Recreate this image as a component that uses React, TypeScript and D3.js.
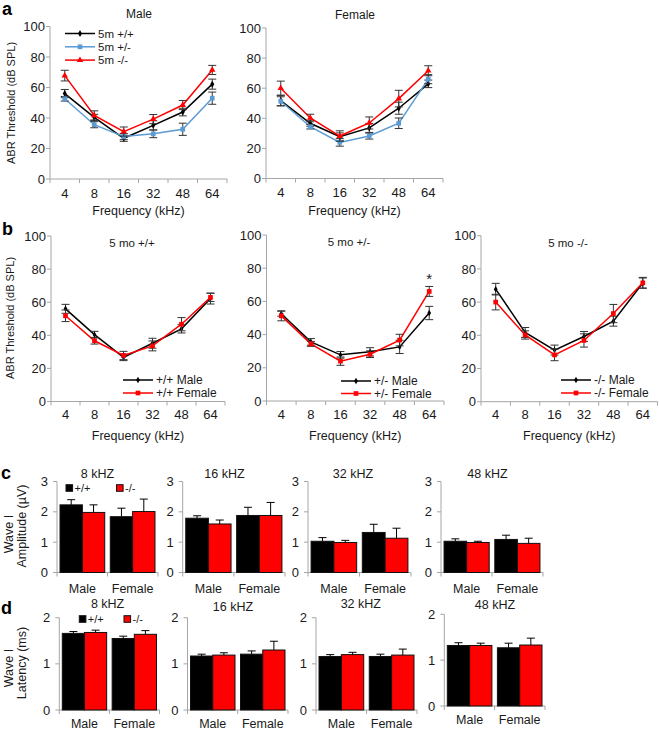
import React from "react";
import * as d3 from "d3";

const FONT = "'Liberation Sans', Arial, Helvetica, sans-serif";

// ---------- Panel a / b data (ABR thresholds, dB SPL) ----------
const freqs = ["4", "8", "16", "32", "48", "64"];
const thresholdTicks = [0, 20, 40, 60, 80, 100];

const maleWT = [56, 40.4, 26.7, 35.2, 43.9, 62.2];
const maleWTErr = [2.7, 2, 2, 3, 2.5, 3.3];
const maleHet = [52.6, 35.6, 27.8, 29.6, 32.6, 53];
const maleHetErr = [1.5, 2, 2, 2.5, 4, 4];
const maleKO = [67.8, 41.7, 31.1, 39.3, 48.5, 71.5];
const maleKOErr = [3.5, 3, 3, 3, 3, 3];

const femaleWT = [51.8, 36.7, 27.8, 33.6, 46.7, 62.9];
const femaleWTErr = [3.5, 2, 2.5, 3, 4, 2.5];
const femaleHet = [51.3, 34.4, 24, 28.2, 36.7, 66];
const femaleHetErr = [3, 1.5, 2.5, 2, 3.5, 3];
const femaleKO = [60, 40.2, 28.2, 36.9, 53.1, 71.6];
const femaleKOErr = [4.7, 2.5, 3.5, 4, 5.5, 3.3];

// ---------- Panel c / d data ----------
const sexes = ["Male", "Female"];
const genotypes = ["+/+", "-/-"];
const barFreqs = ["8 kHZ", "16 kHZ", "32 kHZ", "48 kHZ"];
const ampTicks = [0, 1, 2, 3];
const latTicks = [0, 1, 2];

const ampMaleWT = [2.23, 1.79, 1.03, 1.03];
const ampMaleWTErr = [0.17, 0.08, 0.12, 0.08];
const ampMaleKO = [1.98, 1.6, 0.99, 0.99];
const ampMaleKOErr = [0.25, 0.13, 0.07, 0.04];
const ampFemaleWT = [1.84, 1.88, 1.32, 1.09];
const ampFemaleWTErr = [0.28, 0.27, 0.27, 0.14];
const ampFemaleKO = [2.01, 1.88, 1.13, 0.96];
const ampFemaleKOErr = [0.41, 0.43, 0.33, 0.17];

const latMaleWT = [1.66, 1.17, 1.16, 1.32];
const latMaleWTErr = [0.04, 0.04, 0.04, 0.06];
const latMaleKO = [1.68, 1.19, 1.2, 1.32];
const latMaleKOErr = [0.05, 0.05, 0.05, 0.05];
const latFemaleWT = [1.55, 1.21, 1.16, 1.27];
const latFemaleWTErr = [0.05, 0.07, 0.05, 0.1];
const latFemaleKO = [1.64, 1.3, 1.19, 1.33];
const latFemaleKOErr = [0.08, 0.19, 0.13, 0.15];

const BLACK = "#000000";
const BLUE = "#5b9bd5";
const RED = "#ff0000";
const AXIS = "#a6a6a6";
const TXT = "#1a1a1a";
const ERR = "#333333";

type MarkerType = "diamond" | "square" | "triangle";
type Series = {
  label: string;
  values: number[];
  errs: number[];
  color: string;
  marker: MarkerType;
  size: number;
};

function symbolOf(t: MarkerType) {
  return t === "diamond" ? d3.symbolDiamond : t === "square" ? d3.symbolSquare : d3.symbolTriangle;
}

function Marker({ type, size, color, x, y }: { type: MarkerType; size: number; color: string; x: number; y: number }) {
  const p = d3.symbol(symbolOf(type), size)() || "";
  return <path d={p} transform={`translate(${x},${y})`} fill={color} />;
}

type Legend = { x: number; y: number; dy: number; size: number; len: number };

type LineProps = {
  x0: number;
  x1: number;
  yTop: number;
  yBot: number;
  series: Series[];
  title: string;
  titleX: number;
  titleY: number;
  titleSize: number;
  legend?: Legend;
  xLabelY: number;
  tickLabelDy: number;
  star?: { index: number; y: number };
};

function LinePanel(p: LineProps) {
  const x = d3.scaleBand<string>().domain(freqs).range([p.x0, p.x1]).padding(0);
  const y = d3.scaleLinear().domain([0, 100]).range([p.yBot, p.yTop]);
  const cx = (f: string) => (x(f) as number) + x.bandwidth() / 2;
  const line = d3
    .line<number>()
    .x((_, i) => cx(freqs[i]))
    .y((v) => y(v));
  const boundaries = freqs.map((f) => x(f) as number).concat([p.x1]);
  const lg = p.legend;
  return (
    <g>
      <line x1={p.x0} x2={p.x0} y1={y(100)} y2={p.yBot} stroke={AXIS} strokeWidth={1} />
      <line x1={p.x0} x2={p.x1} y1={p.yBot} y2={p.yBot} stroke={AXIS} strokeWidth={1} />
      {thresholdTicks.map((t) => (
        <g key={"yt" + t}>
          <line x1={p.x0 - 4} x2={p.x0} y1={y(t)} y2={y(t)} stroke={AXIS} />
          <text x={p.x0 - 5} y={y(t) + 4.6} textAnchor="end" fontSize={13} fill={TXT}>
            {t}
          </text>
        </g>
      ))}
      {boundaries.map((b, i) => (
        <line key={"xb" + i} x1={b} x2={b} y1={p.yBot} y2={p.yBot + 4} stroke={AXIS} />
      ))}
      {freqs.map((f) => (
        <text key={"xl" + f} x={cx(f)} y={p.yBot + p.tickLabelDy} textAnchor="middle" fontSize={13} fill={TXT}>
          {f}
        </text>
      ))}
      <text x={(p.x0 + p.x1) / 2} y={p.xLabelY} textAnchor="middle" fontSize={12.5} fill={TXT}>
        Frequency (kHz)
      </text>
      <text x={p.titleX} y={p.titleY} textAnchor="middle" fontSize={p.titleSize} fill={TXT}>
        {p.title}
      </text>
      {p.series.map((s, si) => (
        <g key={"s" + si}>
          <path d={line(s.values) || ""} fill="none" stroke={s.color} strokeWidth={1.5} />
          {s.values.map((v, i) => {
            const xc = cx(freqs[i]);
            const lo = y(v - s.errs[i]);
            const hi = y(v + s.errs[i]);
            return (
              <g key={"e" + i} stroke={ERR} strokeWidth={1}>
                <line x1={xc} x2={xc} y1={lo} y2={hi} />
                <line x1={xc - 4} x2={xc + 4} y1={lo} y2={lo} />
                <line x1={xc - 4} x2={xc + 4} y1={hi} y2={hi} />
              </g>
            );
          })}
          {s.values.map((v, i) => (
            <Marker key={"m" + i} type={s.marker} size={s.size} color={s.color} x={cx(freqs[i])} y={y(v)} />
          ))}
        </g>
      ))}
      {lg &&
        p.series.map((s, si) => {
          const ly = lg.y + si * lg.dy;
          return (
            <g key={"lg" + si}>
              <line x1={lg.x} x2={lg.x + lg.len} y1={ly} y2={ly} stroke={s.color} strokeWidth={1.5} />
              <Marker type={s.marker} size={s.size} color={s.color} x={lg.x + lg.len / 2} y={ly} />
              <text x={lg.x + lg.len + 3} y={ly + 4.3} fontSize={lg.size} fill={TXT}>
                {s.label}
              </text>
            </g>
          );
        })}
      {p.star && (
        <text x={cx(freqs[p.star.index])} y={p.star.y} textAnchor="middle" fontSize={15} fill={TXT}>
          *
        </text>
      )}
    </g>
  );
}

type BarProps = {
  x0: number;
  x1: number;
  yTop: number;
  yBot: number;
  maxV: number;
  ticks: number[];
  wt: number[];
  wtErr: number[];
  ko: number[];
  koErr: number[];
  title: string;
  titleX: number;
  titleY: number;
  catY: number;
  legend?: { y: number; x1: number; x2: number };
};

function BarPanel(p: BarProps) {
  const x = d3.scaleBand<string>().domain(sexes).range([p.x0, p.x1]).paddingInner(0.11).paddingOuter(0.06);
  const xg = d3.scaleBand<string>().domain(genotypes).range([0, x.bandwidth()]).padding(0);
  const y = d3.scaleLinear().domain([0, p.maxV]).range([p.yBot, p.yTop]);
  const bounds = [p.x0, p.x0 + (p.x1 - p.x0) / 2, p.x1];
  const rows = sexes.map((sx, si) =>
    genotypes.map((g, gi) => {
      const v = gi === 0 ? p.wt[si] : p.ko[si];
      const e = gi === 0 ? p.wtErr[si] : p.koErr[si];
      return { sx, g, v, e, color: gi === 0 ? BLACK : RED };
    })
  );
  return (
    <g>
      <line x1={p.x0} x2={p.x0} y1={p.yTop} y2={p.yBot} stroke={AXIS} />
      <line x1={p.x0} x2={p.x1} y1={p.yBot} y2={p.yBot} stroke={AXIS} />
      {p.ticks.map((t) => (
        <g key={"t" + t}>
          <line x1={p.x0 - 4} x2={p.x0} y1={y(t)} y2={y(t)} stroke={AXIS} />
          <text x={p.x0 - 9} y={y(t) + 4.6} textAnchor="end" fontSize={13} fill={TXT}>
            {t}
          </text>
        </g>
      ))}
      {bounds.map((b, i) => (
        <line key={"b" + i} x1={b} x2={b} y1={p.yBot} y2={p.yBot + 4} stroke={AXIS} />
      ))}
      {rows.flat().map((r, i) => {
        const bx = (x(r.sx) as number) + (xg(r.g) as number);
        const bw = xg.bandwidth();
        const top = y(r.v);
        const et = y(r.v + r.e);
        const mx = bx + bw / 2;
        return (
          <g key={"bar" + i}>
            <rect x={bx} y={top} width={bw} height={p.yBot - top} fill={r.color} stroke="#111" strokeWidth={1} />
            <line x1={mx} x2={mx} y1={top} y2={et} stroke="#000" strokeWidth={1} />
            <line x1={mx - 4} x2={mx + 4} y1={et} y2={et} stroke="#000" strokeWidth={1} />
          </g>
        );
      })}
      {sexes.map((sx) => (
        <text
          key={"c" + sx}
          x={(x(sx) as number) + x.bandwidth() / 2}
          y={p.catY}
          textAnchor="middle"
          fontSize={12.5}
          fill={TXT}
        >
          {sx}
        </text>
      ))}
      <text x={p.titleX} y={p.titleY} textAnchor="middle" fontSize={12.5} fill={TXT}>
        {p.title}
      </text>
      {p.legend && (
        <g>
          <rect x={p.legend.x1} y={p.legend.y - 3.3} width={6.6} height={6.6} fill={BLACK} stroke="#111" />
          <text x={p.legend.x1 + 8.5} y={p.legend.y + 3.9} fontSize={11} fill={TXT}>
            {genotypes[0]}
          </text>
          <rect x={p.legend.x2} y={p.legend.y - 3.3} width={6.6} height={6.6} fill={RED} stroke="#111" />
          <text x={p.legend.x2 + 8.5} y={p.legend.y + 3.9} fontSize={11} fill={TXT}>
            {genotypes[1]}
          </text>
        </g>
      )}
    </g>
  );
}

function RotLabel({ x, y, text, size }: { x: number; y: number; text: string; size: number }) {
  return (
    <text transform={`translate(${x},${y}) rotate(-90)`} textAnchor="middle" dy="0.35em" fontSize={size} fill={TXT}>
      {text}
    </text>
  );
}

export default function App() {
  const aMale: Series[] = [
    { label: "5m +/+", values: maleWT, errs: maleWTErr, color: BLACK, marker: "diamond", size: 14 },
    { label: "5m +/-", values: maleHet, errs: maleHetErr, color: BLUE, marker: "square", size: 22 },
    { label: "5m -/-", values: maleKO, errs: maleKOErr, color: RED, marker: "triangle", size: 18 },
  ];
  const aFemale: Series[] = [
    { label: "5m +/+", values: femaleWT, errs: femaleWTErr, color: BLACK, marker: "diamond", size: 14 },
    { label: "5m +/-", values: femaleHet, errs: femaleHetErr, color: BLUE, marker: "square", size: 22 },
    { label: "5m -/-", values: femaleKO, errs: femaleKOErr, color: RED, marker: "triangle", size: 18 },
  ];
  const bWT: Series[] = [
    { label: "+/+ Male", values: maleWT, errs: maleWTErr, color: BLACK, marker: "diamond", size: 12 },
    { label: "+/+ Female", values: femaleWT, errs: femaleWTErr, color: RED, marker: "square", size: 22 },
  ];
  const bHet: Series[] = [
    { label: "+/- Male", values: maleHet, errs: maleHetErr, color: BLACK, marker: "diamond", size: 12 },
    { label: "+/- Female", values: femaleHet, errs: femaleHetErr, color: RED, marker: "square", size: 22 },
  ];
  const bKO: Series[] = [
    { label: "-/- Male", values: maleKO, errs: maleKOErr, color: BLACK, marker: "diamond", size: 12 },
    { label: "-/- Female", values: femaleKO, errs: femaleKOErr, color: RED, marker: "square", size: 22 },
  ];

  const cX = [
    [57, 158],
    [182.7, 285],
    [308, 411],
    [441, 543],
  ];
  const cTitleX = [97.5, 224.5, 353, 487.5];
  const dX = [
    [59.3, 159.5],
    [187.5, 288],
    [316, 417],
    [444.3, 545],
  ];
  const dTitleX = [107.6, 233, 360.8, 495];
  const dTitleY = [608, 611, 608, 609];
  const dYTop = [617.7, 617.7, 617.7, 614.3];
  const dYBot = [710, 710, 710, 706];

  return (
    <svg
      width={660}
      height={730}
      viewBox="0 0 660 730"
      style={{ position: "absolute", left: 0, top: 0, background: "#fff" }}
      fontFamily={FONT}
    >
      <rect x={0} y={0} width={660} height={730} fill="#fff" />
      <text x={2} y={15} fontSize={18} fontWeight="bold" fill="#000">a</text>
      <text x={2} y={235} fontSize={18} fontWeight="bold" fill="#000">b</text>
      <text x={1} y={479} fontSize={18} fontWeight="bold" fill="#000">c</text>
      <text x={1} y={614} fontSize={18} fontWeight="bold" fill="#000">d</text>

      {/* panel a */}
      <RotLabel x={11.5} y={103} text="ABR Threshold (dB SPL)" size={11} />
      <LinePanel
        x0={50}
        x1={227}
        yTop={26.5}
        yBot={179}
        series={aMale}
        title="Male"
        titleX={139}
        titleY={18}
        titleSize={12}
        legend={{ x: 65, y: 33.5, dy: 13.3, size: 11.5, len: 30 }}
        xLabelY={214.5}
        tickLabelDy={18.5}
      />
      <LinePanel
        x0={266}
        x1={443}
        yTop={28}
        yBot={178.5}
        series={aFemale}
        title="Female"
        titleX={355}
        titleY={19}
        titleSize={12}
        xLabelY={214.5}
        tickLabelDy={18.5}
      />

      {/* panel b */}
      <RotLabel x={10.5} y={318} text="ABR Threshold (dB SPL)" size={11} />
      <LinePanel
        x0={51}
        x1={225}
        yTop={236}
        yBot={401.5}
        series={bWT}
        title="5 mo +/+"
        titleX={132}
        titleY={247}
        titleSize={11.5}
        legend={{ x: 123, y: 380, dy: 13, size: 12, len: 30 }}
        xLabelY={439.5}
        tickLabelDy={17.5}
      />
      <LinePanel
        x0={266.5}
        x1={444}
        yTop={235}
        yBot={401}
        series={bHet}
        title="5 mo +/-"
        titleX={349}
        titleY={246}
        titleSize={11.5}
        legend={{ x: 341, y: 381, dy: 12.5, size: 12, len: 30 }}
        xLabelY={439.5}
        tickLabelDy={17.5}
        star={{ index: 5, y: 284 }}
      />
      <LinePanel
        x0={481}
        x1={657.5}
        yTop={235.7}
        yBot={401.7}
        series={bKO}
        title="5 mo -/-"
        titleX={568}
        titleY={247}
        titleSize={11.5}
        legend={{ x: 561, y: 380, dy: 13, size: 12, len: 30 }}
        xLabelY={439.5}
        tickLabelDy={17.5}
      />

      {/* panel c */}
      <RotLabel x={8.5} y={534} text="Wave I" size={12.5} />
      <RotLabel x={22} y={526} text="Amplitude (µV)" size={12.5} />
      {barFreqs.map((f, i) => (
        <BarPanel
          key={"c" + f}
          x0={cX[i][0]}
          x1={cX[i][1]}
          yTop={481.5}
          yBot={572.5}
          maxV={3}
          ticks={ampTicks}
          wt={[ampMaleWT[i], ampFemaleWT[i]]}
          wtErr={[ampMaleWTErr[i], ampFemaleWTErr[i]]}
          ko={[ampMaleKO[i], ampFemaleKO[i]]}
          koErr={[ampMaleKOErr[i], ampFemaleKOErr[i]]}
          title={f}
          titleX={cTitleX[i]}
          titleY={477.5}
          catY={592.5}
          legend={i === 0 ? { y: 488, x1: 66, x2: 116.5 } : undefined}
        />
      ))}

      {/* panel d */}
      <RotLabel x={8.5} y={668} text="Wave I" size={12.5} />
      <RotLabel x={22} y={663} text="Latency (ms)" size={12.5} />
      {barFreqs.map((f, i) => (
        <BarPanel
          key={"d" + f}
          x0={dX[i][0]}
          x1={dX[i][1]}
          yTop={dYTop[i]}
          yBot={dYBot[i]}
          maxV={2}
          ticks={latTicks}
          wt={[latMaleWT[i], latFemaleWT[i]]}
          wtErr={[latMaleWTErr[i], latFemaleWTErr[i]]}
          ko={[latMaleKO[i], latFemaleKO[i]]}
          koErr={[latMaleKOErr[i], latFemaleKOErr[i]]}
          title={f}
          titleX={dTitleX[i]}
          titleY={dTitleY[i]}
          catY={dYBot[i] + 17.5}
          legend={i === 0 ? { y: 619, x1: 79.3, x2: 124 } : undefined}
        />
      ))}
    </svg>
  );
}
